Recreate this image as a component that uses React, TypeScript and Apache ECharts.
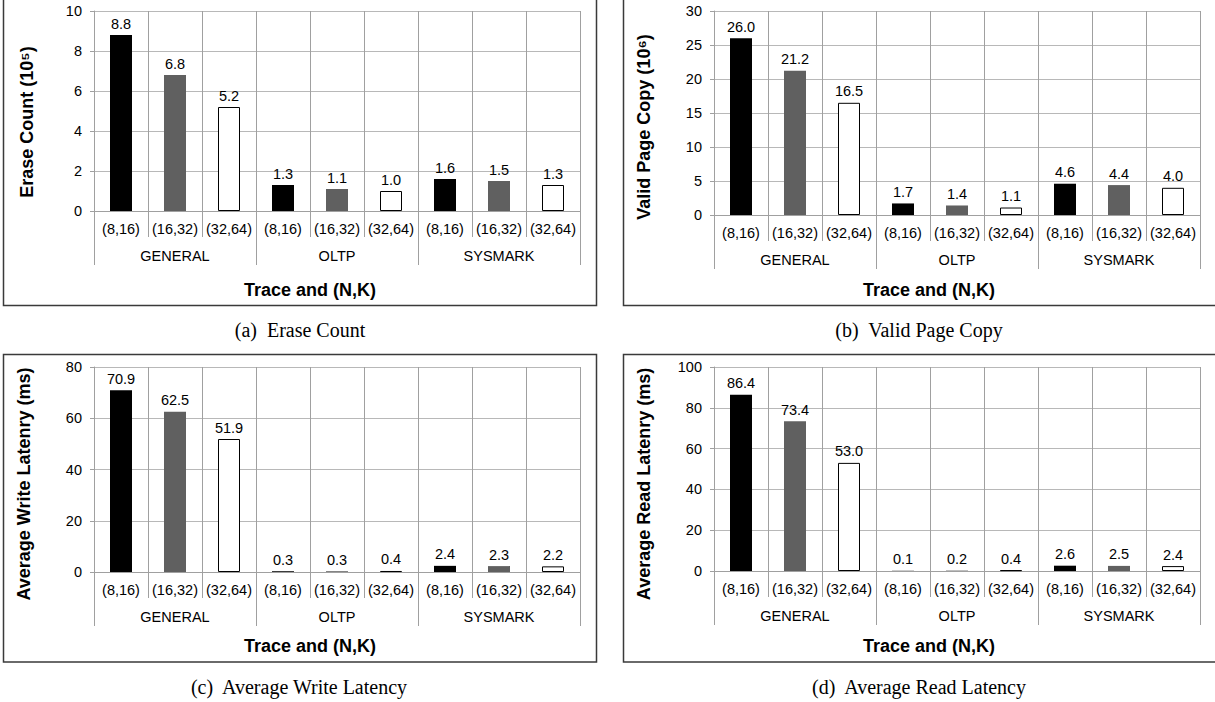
import React, { useEffect, useRef } from 'react';
import * as echarts from 'echarts';

const CATEGORIES = ['(8,16)', '(16,32)', '(32,64)', '(8,16)', '(16,32)', '(32,64)', '(8,16)', '(16,32)', '(32,64)'];
const GROUPS = ['GENERAL', 'OLTP', 'SYSMARK'];
const BAR_COLORS = ['#000000', '#606060', '#ffffff'];

const ERASE_COUNT = [8.8, 6.8, 5.2, 1.3, 1.1, 1.0, 1.6, 1.5, 1.3];
const VALID_PAGE_COPY = [26.0, 21.2, 16.5, 1.7, 1.4, 1.1, 4.6, 4.4, 4.0];
const WRITE_LATENCY = [70.9, 62.5, 51.9, 0.3, 0.3, 0.4, 2.4, 2.3, 2.2];
const READ_LATENCY = [86.4, 73.4, 53.0, 0.1, 0.2, 0.4, 2.6, 2.5, 2.4];

const Y_TITLES = ['Erase Count (10⁵)', 'Valid Page Copy (10⁶)', 'Average Write Latenry (ms)', 'Average Read Latenry (ms)'];
const X_TITLE = 'Trace and (N,K)';
const CAPTIONS = ['(a)  Erase Count', '(b)  Valid Page Copy', '(c)  Average Write Latency', '(d)  Average Read Latency'];
const Y_MAX = [10, 30, 80, 100];
const Y_INTERVAL = [2, 5, 20, 20];

const SANS = '"Liberation Sans", Arial, Helvetica, sans-serif';
const SERIF = '"Liberation Serif", "Times New Roman", serif';
const GRID_V = '#a0a0a0';
const GRID_H = '#b8b8b8';

export default function App() {
  const ref = useRef<HTMLDivElement>(null);

  useEffect(() => {
    if (!ref.current) return;
    const chart = echarts.init(ref.current, null, { renderer: 'svg' });

    const panels = [
      { values: ERASE_COUNT, left: 94, top: 11, height: 200, box: [3.5, -2, 593, 307.5], yT: [27, 122], xT: [310, 290], cap: [300, 330] },
      { values: VALID_PAGE_COPY, left: 714, top: 11, height: 204, box: [623.5, -2, 600, 307.5], yT: [644, 127], xT: [929, 290], cap: [919, 330] },
      { values: WRITE_LATENCY, left: 94, top: 367, height: 205, box: [3.5, 354.5, 593, 307.5], yT: [24, 484], xT: [310, 646], cap: [299, 687] },
      { values: READ_LATENCY, left: 714, top: 367, height: 204, box: [623.5, 354.5, 600, 307.5], yT: [644, 484], xT: [929, 646], cap: [919, 687] },
    ];

    const grid = panels.map((p) => ({
      left: p.left,
      top: p.top,
      width: 486,
      height: p.height,
      containLabel: false,
      outerBoundsMode: 'none',
    }));

    const xAxis: any[] = [];
    panels.forEach((p, i) => {
      xAxis.push({
        type: 'category',
        gridIndex: i,
        data: CATEGORIES,
        boundaryGap: true,
        axisLine: { show: true, lineStyle: { color: GRID_V, width: 1 } },
        axisTick: { show: true, interval: 0, length: 26, lineStyle: { color: GRID_V } },
        axisLabel: { interval: 0, margin: 10, fontSize: 14.5, color: '#000', fontFamily: SANS },
        splitLine: { show: true, interval: 0, lineStyle: { color: GRID_V, width: 1 } },
      });
      xAxis.push({
        type: 'category',
        gridIndex: i,
        data: GROUPS,
        position: 'bottom',
        boundaryGap: true,
        axisLine: { show: false },
        axisTick: { show: true, interval: 0, length: 54, lineStyle: { color: GRID_V } },
        axisLabel: { interval: 0, margin: 37, fontSize: 14.5, color: '#000', fontFamily: SANS },
        splitLine: { show: false },
      });
    });

    const yAxis = panels.map((p, i) => ({
      type: 'value',
      gridIndex: i,
      min: 0,
      max: Y_MAX[i],
      interval: Y_INTERVAL[i],
      axisLine: { show: true, lineStyle: { color: GRID_V } },
      axisTick: { show: true, length: 4, lineStyle: { color: GRID_V } },
      axisLabel: { margin: 12, fontSize: 14.5, color: '#000', fontFamily: SANS },
      splitLine: { show: true, lineStyle: { color: GRID_H, width: 1 } },
    }));

    const series = panels.map((p, i) => ({
      type: 'bar',
      xAxisIndex: 2 * i,
      yAxisIndex: i,
      barWidth: 22,
      data: p.values.map((v, j) => {
        const c = BAR_COLORS[j % 3];
        return {
          value: v,
          itemStyle: c === '#ffffff'
            ? { color: c, borderColor: '#000', borderWidth: 1 }
            : { color: c },
        };
      }),
      label: {
        show: true,
        position: 'top',
        distance: 4,
        fontSize: 14.5,
        color: '#000',
        fontFamily: SANS,
        formatter: (prm: any) => Number(prm.value).toFixed(1),
      },
    }));

    const graphic: any[] = [];
    panels.forEach((p, i) => {
      graphic.push({
        type: 'rect',
        shape: { x: p.box[0], y: p.box[1], width: p.box[2], height: p.box[3] },
        style: { fill: 'none', stroke: '#3a3a3a', lineWidth: 1.5 },
        silent: true,
      });
      graphic.push({
        type: 'text',
        x: p.yT[0],
        y: p.yT[1],
        rotation: Math.PI / 2,
        style: {
          text: Y_TITLES[i],
          fontSize: 18,
          fontWeight: 'bold',
          fontFamily: SANS,
          fill: '#000',
          align: 'center',
          verticalAlign: 'middle',
        },
      });
      graphic.push({
        type: 'text',
        x: p.xT[0],
        y: p.xT[1],
        style: {
          text: X_TITLE,
          fontSize: 18,
          fontWeight: 'bold',
          fontFamily: SANS,
          fill: '#000',
          align: 'center',
          verticalAlign: 'middle',
        },
      });
      graphic.push({
        type: 'text',
        x: p.cap[0],
        y: p.cap[1],
        style: {
          text: CAPTIONS[i],
          fontSize: 20,
          fontFamily: SERIF,
          fill: '#000',
          align: 'center',
          verticalAlign: 'middle',
        },
      });
    });

    chart.setOption({
      animation: false,
      backgroundColor: '#ffffff',
      textStyle: { fontFamily: SANS },
      grid,
      xAxis,
      yAxis,
      series,
      graphic,
    });

    return () => {
      chart.dispose();
    };
  }, []);

  return (
    <div
      ref={ref}
      style={{ position: 'absolute', left: 0, top: 0, width: 1215, height: 702, background: '#fff' }}
    />
  );
}
